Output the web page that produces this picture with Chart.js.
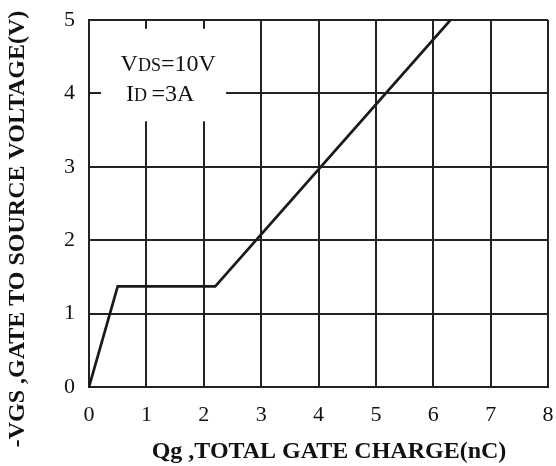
<!DOCTYPE html>
<html><head><meta charset="utf-8">
<script src="https://cdn.jsdelivr.net/npm/chart.js@4/dist/chart.umd.min.js"></script>
<style>html,body{margin:0;padding:0;background:#fff}#wrap{width:556px;height:466px}</style>
</head><body><div id="wrap"><canvas id="c" width="556" height="466"></canvas></div>
<script>
const qg = [0, 0.5, 2.2, 6.3];
const vgs = [0, 1.37, 1.37, 5];
const xTicks = [0,1,2,3,4,5,6,7,8];
const yTicks = [0,1,2,3,4,5];
const xTitle = 'Qg ,TOTAL GATE CHARGE(nC)';
const yTitle = '-VGS ,GATE TO SOURCE VOLTAGE(V)';
const FONT = '"Liberation Serif", "Times New Roman", serif';
const INK = '#222';

const overlay = {
  id: 'overlay',
  beforeDatasetsDraw(chart) {
    const ctx = chart.ctx, x = chart.scales.x, y = chart.scales.y;
    ctx.save();
    ctx.fillStyle = '#fff';
    const l = x.getPixelForValue(0.21), r = x.getPixelForValue(2.39);
    const t = y.getPixelForValue(4.88), b = y.getPixelForValue(3.62);
    ctx.fillRect(l, t, r - l, b - t);
    ctx.fillStyle = '#111';
    ctx.textBaseline = 'alphabetic';
    ctx.textAlign = 'left';
    let cx = x.getPixelForValue(0.55), cy = y.getPixelForValue(4.31);
    ctx.font = '24px ' + FONT; ctx.fillText('V', cx, cy); cx += ctx.measureText('V').width;
    ctx.font = '18px ' + FONT; ctx.fillText('DS', cx, cy); cx += ctx.measureText('DS').width;
    ctx.font = '24px ' + FONT; ctx.fillText('=10V', cx, cy);
    cx = x.getPixelForValue(0.645); cy = y.getPixelForValue(3.90);
    ctx.font = '24px ' + FONT; ctx.fillText('I', cx, cy); cx += ctx.measureText('I').width;
    ctx.font = '18px ' + FONT; ctx.fillText('D', cx, cy); cx += ctx.measureText('D ').width;
    ctx.font = '24px ' + FONT; ctx.fillText('=3A', cx, cy);
    ctx.restore();
  },
  afterDraw(chart) {
    const ctx = chart.ctx;
    ctx.save();
    ctx.fillStyle = '#111';
    ctx.font = 'bold 24px ' + FONT;
    ctx.textAlign = 'center'; ctx.textBaseline = 'middle';
    ctx.fillText(xTitle, 329, 452);
    ctx.translate(18, 229); ctx.rotate(-Math.PI/2);
    ctx.fillText(yTitle, 0, 0);
    ctx.restore();
  }
};

new Chart(document.getElementById('c'), {
  type: 'line',
  data: { datasets: [{ data: qg.map((v,i)=>({x:v,y:vgs[i]})), borderColor: '#1a1a1a', borderWidth: 2.7, pointRadius: 0, tension: 0, fill: false }] },
  options: {
    responsive: false, animation: false,
    layout: { padding: { top: 20, right: 8, left: 0, bottom: 0 } },
    plugins: { legend: { display: false }, tooltip: { enabled: false } },
    scales: {
      x: { type: 'linear', min: 0, max: 8,
        afterBuildTicks: s => { s.ticks = xTicks.map(v=>({value:v})); },
        afterFit: s => { s.height = 79; s.paddingLeft = 0; s.paddingRight = 0; },
        grid: { color: INK, lineWidth: 2, drawTicks: false },
        border: { color: INK, width: 2 },
        ticks: { color: '#111', font: { family: FONT, size: 22 }, padding: 15, maxRotation: 0 } },
      y: { type: 'linear', min: 0, max: 5,
        afterBuildTicks: s => { s.ticks = yTicks.map(v=>({value:v})); },
        afterFit: s => { s.width = 89; s.paddingTop = 0; s.paddingBottom = 0; },
        grid: { color: INK, lineWidth: 2, drawTicks: false },
        border: { color: INK, width: 2 },
        ticks: { color: '#111', font: { family: FONT, size: 22 }, padding: 14 } }
    }
  },
  plugins: [overlay]
});
</script></body></html>
